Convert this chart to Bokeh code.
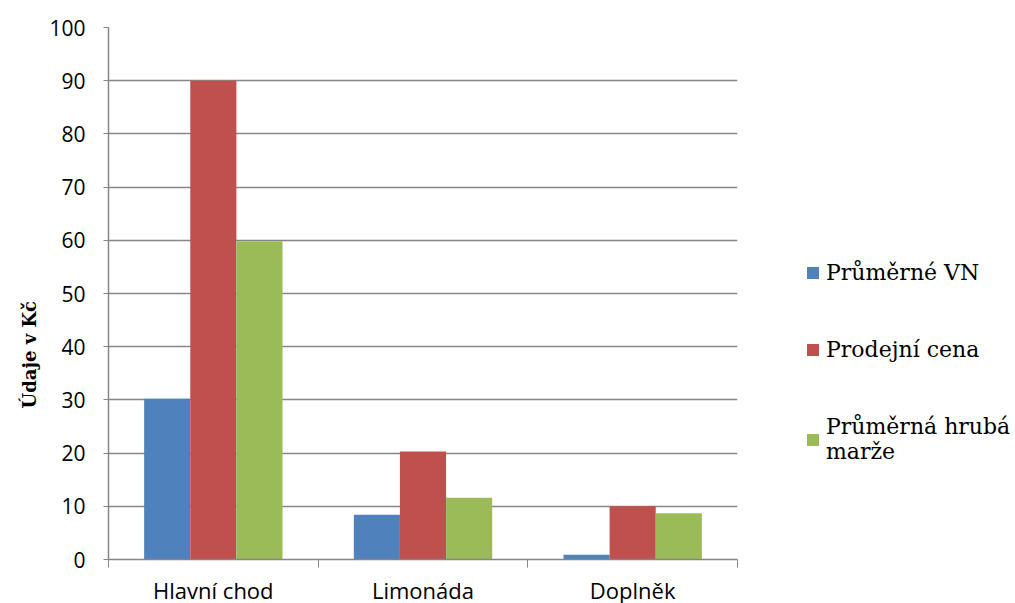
from bokeh.plotting import figure
from bokeh.models import (ColumnDataSource, FixedTicker, Legend, LegendItem,
                          Range1d, Title)
from bokeh.embed import file_html
from bokeh.resources import INLINE

categories = ["Hlavní chod", "Limonáda", "Doplněk"]
series_names = ["Průměrné VN", "Prodejní cena", "Průměrná hrubá\nmarže"]
prumerne_vn = [30.2, 8.4, 0.9]
prodejni_cena = [90.0, 20.3, 10.0]
hruba_marze = [59.8, 11.6, 8.7]
colors = ["#4F81BD", "#C0504D", "#9BBB59"]
y_ticks = list(range(0, 101, 10))

p = figure(frame_width=629, frame_height=532, output_backend="svg",
           toolbar_location=None,
           x_range=Range1d(0, 3), y_range=Range1d(0, 100),
           min_border_left=108, min_border_right=278,
           min_border_top=27, min_border_bottom=44)
p.outline_line_color = None
p.background_fill_color = "white"

centers = [i + 0.5 for i in range(len(categories))]
bar_w = 0.22
offsets = [-bar_w, 0.0, bar_w]
renderers = []
for vals, off, col in zip([prumerne_vn, prodejni_cena, hruba_marze], offsets, colors):
    src = ColumnDataSource(dict(x=[c + off for c in centers], top=vals))
    r = p.vbar(x="x", top="top", bottom=0, width=bar_w, source=src,
               fill_color=col, line_color=None)
    renderers.append(r)

# x axis: labels at category centres, tick marks between categories
p.xaxis.ticker = FixedTicker(ticks=centers, minor_ticks=[0, 1, 2, 3])
p.xaxis.major_label_overrides = {c: n for c, n in zip(centers, categories)}
p.xaxis.major_tick_out = 0
p.xaxis.major_tick_in = 0
p.xaxis.minor_tick_out = 8
p.xaxis.minor_tick_in = 0
p.xaxis.minor_tick_line_color = "#868686"
p.xaxis.axis_line_color = "#868686"
p.xaxis.axis_line_width = 1.5
p.xaxis.major_label_text_font = "Open Sans"
p.xaxis.major_label_text_font_size = "22px"
p.xaxis.major_label_text_color = "#000000"
p.xaxis.major_label_standoff = 7
p.xgrid.grid_line_color = None

p.yaxis.ticker = FixedTicker(ticks=y_ticks)
p.yaxis.major_tick_out = 5
p.yaxis.major_tick_in = 0
p.yaxis.minor_tick_line_color = None
p.yaxis.axis_line_color = "#868686"
p.yaxis.axis_line_width = 1.5
p.yaxis.major_tick_line_color = "#868686"
p.yaxis.major_label_text_font = "Open Sans"
p.yaxis.major_label_text_font_size = "21px"
p.yaxis.major_label_text_color = "#000000"
p.yaxis.major_label_standoff = 18
p.ygrid.grid_line_color = "#868686"
p.ygrid.grid_line_width = 1.5

ylabel = Title(text="Údaje v Kč", align="left", offset=151,
               text_font="DejaVu Serif", text_font_style="bold",
               text_font_size="18px", text_color="#000000", standoff=14)
p.add_layout(ylabel, "left")

legend = Legend(items=[LegendItem(label=n, renderers=[r])
                       for n, r in zip(series_names, renderers)],
                location=(68, 95), border_line_color=None,
                background_fill_alpha=0, label_text_font="DejaVu Serif",
                label_text_font_size="22px", label_text_color="#000000",
                glyph_width=15, glyph_height=15,
                label_standoff=6, spacing=52, padding=0, margin=0)
p.add_layout(legend, "right")

open("out.html", "w").write(file_html(p, INLINE))
